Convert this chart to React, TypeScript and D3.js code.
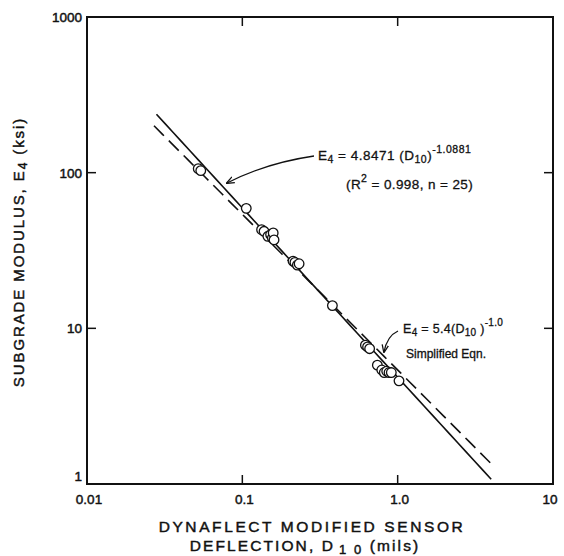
import React from "react";
import * as d3 from "d3";

const W = 564;
const H = 556;

// Measured data points: D10 deflection (mils), subgrade modulus E4 (ksi)
const deflection = [0.052, 0.054, 0.106, 0.133, 0.138, 0.146, 0.152, 0.156, 0.158, 0.212, 0.218, 0.226, 0.232, 0.38, 0.62, 0.64, 0.66, 0.74, 0.79, 0.82, 0.85, 0.88, 0.91, 1.02, 0.16];
const modulus = [106, 103, 59, 43, 42, 39, 40, 38, 41, 27, 26.5, 25.5, 26, 14, 7.8, 7.6, 7.4, 5.8, 5.4, 5.2, 5.3, 5.2, 5.2, 4.6, 37];

const xTicks = [0.01, 0.1, 1, 10];
const xTickLabels = ["0.01", "0.1", "1.0", "10"];
const yTicks = [1, 10, 100, 1000];
const yTickLabels = ["1", "10", "100", "1000"];

// Regression: E4 = 4.8471 D^-1.0881 ; Simplified: E4 = 5.4 D^-1.0
const fitCoef = 4.8471;
const fitExp = -1.0881;
const fitRange = [0.028, 4.0];
const simpCoef = 5.4;
const simpExp = -1.0;
const simpRange = [0.027, 4.2];

export default function App() {
  const x = d3.scaleLog().domain([0.01, 10]).range([87, 553]);
  const y = d3.scaleLog().domain([1, 1000]).range([484, 17]);

  const curve = (c: number, e: number, r: number[]) => {
    const pts = d3.range(0, 41).map((i) => {
      const xv = Math.exp(Math.log(r[0]) + (Math.log(r[1]) - Math.log(r[0])) * (i / 40));
      return [x(xv), y(c * Math.pow(xv, e))] as [number, number];
    });
    return d3.line()(pts) as string;
  };

  const font = "'Liberation Sans', Arial, Helvetica, sans-serif";
  const ink = "#111";
  const heavy = { stroke: ink, strokeWidth: 0.45 };

  return (
    <svg width={W} height={H} style={{ position: "absolute", left: 0, top: 0, background: "#fff" }} fontFamily={font}>
      <defs>
        <marker id="ah" viewBox="0 0 10 10" refX="9" refY="5" markerWidth="8" markerHeight="8" orient="auto" markerUnits="userSpaceOnUse">
          <path d="M0,1 L10,5 L0,9" fill="none" stroke={ink} strokeWidth="1.6" />
        </marker>
      </defs>
      {/* frame */}
      <rect x={x(0.01)} y={y(1000)} width={x(10) - x(0.01)} height={y(1) - y(1000)} fill="none" stroke={ink} strokeWidth={2} />
      {/* inner ticks */}
      {[0.1, 1].map((t) => (
        <g key={"xt" + t}>
          <line x1={x(t)} x2={x(t)} y1={y(1)} y2={y(1) - 9} stroke={ink} strokeWidth={1.5} />
          <line x1={x(t)} x2={x(t)} y1={y(1000)} y2={y(1000) + 9} stroke={ink} strokeWidth={1.5} />
        </g>
      ))}
      {[10, 100].map((t) => (
        <g key={"yt" + t}>
          <line x1={x(0.01)} x2={x(0.01) + 9} y1={y(t)} y2={y(t)} stroke={ink} strokeWidth={1.5} />
          <line x1={x(10)} x2={x(10) - 9} y1={y(t)} y2={y(t)} stroke={ink} strokeWidth={1.5} />
        </g>
      ))}
      {/* tick labels */}
      {xTicks.map((t, i) => (
        <text key={"xl" + t} x={x(t) + (i === 3 ? -3 : 2)} y={504} textAnchor="middle" fontSize={13.5} fill={ink} {...heavy}>
          {xTickLabels[i]}
        </text>
      ))}
      {yTicks.map((t, i) => (
        <text key={"yl" + t} x={x(0.01) - 5} y={y(t) + (i === 0 ? -3 : 5)} textAnchor="end" fontSize={13.5} fill={ink} {...heavy}>
          {yTickLabels[i]}
        </text>
      ))}
      {/* lines */}
      <path d={curve(fitCoef, fitExp, fitRange)} fill="none" stroke={ink} strokeWidth={1.6} />
      <path d={curve(simpCoef, simpExp, simpRange)} fill="none" stroke={ink} strokeWidth={1.6} strokeDasharray="14,7" />
      {/* points */}
      {deflection.map((d, i) => (
        <circle key={"p" + i} cx={x(d)} cy={y(modulus[i])} r={4.8} fill="#fff" stroke={ink} strokeWidth={1.3} />
      ))}
      {/* annotation 1 */}
      <text x={318} y={160} fontSize={13.5} letterSpacing={0.5} fill={ink} {...heavy} strokeWidth={0.3}>
        E<tspan dy={3} fontSize={10.5}>4</tspan>
        <tspan dy={-3}> = 4.8471 (D</tspan>
        <tspan dy={3} fontSize={10.5}>10</tspan>
        <tspan dy={-3}>)</tspan>
        <tspan dy={-7} fontSize={10.5}>-1.0881</tspan>
      </text>
      <text x={346} y={189} fontSize={13.5} letterSpacing={0.4} fill={ink} {...heavy} strokeWidth={0.3}>
        (R<tspan dy={-7} fontSize={10.5}>2</tspan>
        <tspan dy={7}> = 0.998, n = 25)</tspan>
      </text>
      <path d="M314,156 Q266,163 227,183" fill="none" stroke={ink} strokeWidth={1.3} markerEnd="url(#ah)" />
      {/* annotation 2 */}
      <text x={403} y={333} fontSize={12.5} letterSpacing={0.3} fill={ink} {...heavy} strokeWidth={0.3}>
        E<tspan dy={3} fontSize={10}>4</tspan>
        <tspan dy={-3}> = 5.4(D</tspan>
        <tspan dy={3} fontSize={10}>10</tspan>
        <tspan dy={-3}> )</tspan>
        <tspan dy={-7} fontSize={10}>-1.0</tspan>
      </text>
      <text x={406} y={358} fontSize={12} fill={ink} {...heavy} strokeWidth={0.3}>Simplified Eqn.</text>
      <path d="M398,331 Q387,336 384,352" fill="none" stroke={ink} strokeWidth={1.3} markerEnd="url(#ah)" />
      {/* axis titles */}
      <text x={312} y={532} textAnchor="middle" fontSize={15.5} letterSpacing={2.6} fill={ink} {...heavy}>
        DYNAFLECT MODIFIED SENSOR
      </text>
      <text x={305} y={551} textAnchor="middle" fontSize={15.5} letterSpacing={2.1} fill={ink} {...heavy}>
        DEFLECTION, D<tspan dy={3} dx={4} fontSize={13}>1 0</tspan>
        <tspan dy={-3}> (mils)</tspan>
      </text>
      <text transform={`translate(24,252) rotate(-90)`} textAnchor="middle" fontSize={15} letterSpacing={1.9} fill={ink} {...heavy}>
        SUBGRADE MODULUS, E<tspan dy={3} fontSize={12}>4</tspan>
        <tspan dy={-3}> (ksi)</tspan>
      </text>
    </svg>
  );
}
